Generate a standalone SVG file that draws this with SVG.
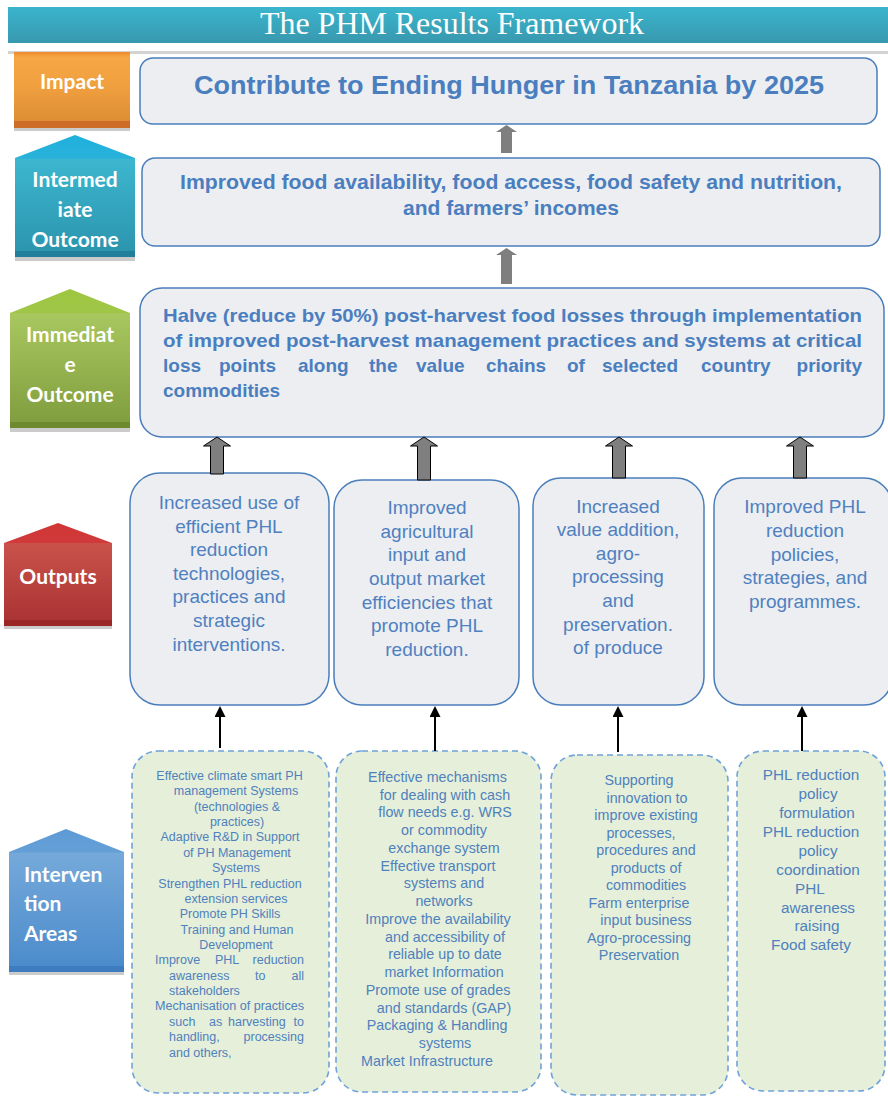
<svg xmlns="http://www.w3.org/2000/svg" width="888" height="1096" viewBox="0 0 888 1096">
<defs>
<style>
.lbl{font-family:Lato,"Open Sans","Liberation Sans",sans-serif;font-weight:bold;font-size:21px;fill:#ffffff}
.hd{font-family:"Liberation Sans",Arial,sans-serif;font-weight:bold;fill:#4a7ebf}
.out{font-family:"Liberation Sans",Arial,sans-serif;font-size:19px;fill:#4f81c0;text-anchor:middle}
.iv{font-family:"Liberation Sans",Arial,sans-serif;fill:#4f81bd}
.box{fill:#eceef1;stroke:#4a7ebb;stroke-width:1.5}
.ibox{fill:#e5efda;stroke:#6fa3d9;stroke-width:1.6;stroke-dasharray:6 4}
.garrow{fill:#7f7f7f}
.garrow2{fill:#7f7f7f;stroke:#000;stroke-width:1}
.blk{stroke:#000;stroke-width:2;fill:none;marker-end:url(#ah)}
.shadow{fill:#cbcbcb}
</style>
<marker id="ah" viewBox="0 0 12 12" markerWidth="12" markerHeight="11" refX="1" refY="6" orient="auto" markerUnits="userSpaceOnUse">
<path d="M0,0 L12,6 L0,12 z" fill="#000"/>
</marker>
<linearGradient id="gTitle" x1="0" y1="0" x2="0" y2="1"><stop offset="0" stop-color="#3ab5cd"/><stop offset="1" stop-color="#3898ae"/></linearGradient>
<linearGradient id="gOrange" x1="0" y1="0" x2="0" y2="1"><stop offset="0" stop-color="#ee8a2c"/><stop offset="0.07" stop-color="#f7a646"/><stop offset="0.45" stop-color="#f0a03f"/><stop offset="1" stop-color="#d98a33"/></linearGradient>
<linearGradient id="gTeal" x1="0" y1="0" x2="0" y2="1"><stop offset="0" stop-color="#1fb0dd"/><stop offset="0.19" stop-color="#28b2d9"/><stop offset="0.2" stop-color="#3db6cf"/><stop offset="1" stop-color="#2b93ac"/></linearGradient>
<linearGradient id="gGreen" x1="0" y1="0" x2="0" y2="1"><stop offset="0" stop-color="#9dc640"/><stop offset="0.17" stop-color="#a0c648"/><stop offset="0.18" stop-color="#a9c75f"/><stop offset="1" stop-color="#7e9c3d"/></linearGradient>
<linearGradient id="gRed" x1="0" y1="0" x2="0" y2="1"><stop offset="0" stop-color="#d13535"/><stop offset="0.19" stop-color="#d03a3a"/><stop offset="0.2" stop-color="#c9524b"/><stop offset="1" stop-color="#a83232"/></linearGradient>
<linearGradient id="gBlue" x1="0" y1="0" x2="0" y2="1"><stop offset="0" stop-color="#5d9bd6"/><stop offset="0.16" stop-color="#659fd6"/><stop offset="0.17" stop-color="#75a9da"/><stop offset="1" stop-color="#4a8acb"/></linearGradient>
</defs>

<rect x="0" y="0" width="888" height="1096" fill="#ffffff"/>

<g id="title">
<rect x="8" y="7" width="880" height="36" fill="url(#gTitle)"/>
<rect x="8" y="51" width="880" height="3" fill="#d3d3d3"/>
<text x="452" y="34" text-anchor="middle" font-family="'Liberation Serif','Times New Roman',serif" font-size="31" fill="#ffffff" textLength="384" lengthAdjust="spacingAndGlyphs">The PHM Results Framework</text>
</g>

<g id="label-impact">
<rect x="14" y="52" width="116" height="76" fill="url(#gOrange)"/>
<rect x="14" y="121" width="116" height="7" fill="#cc6c26"/>
<rect x="14" y="128" width="116" height="3" class="shadow"/>
<text class="lbl" x="72" y="89" text-anchor="middle">Impact</text>
</g>

<g id="label-intermediate">
<path d="M15,158 L75,135 L135,158 L135,257 L15,257 Z" fill="url(#gTeal)"/>
<rect x="15" y="251" width="120" height="6" fill="#217f99"/>
<rect x="15" y="257" width="120" height="4" class="shadow"/>
<text class="lbl" text-anchor="middle"><tspan x="75" y="187">Intermed</tspan><tspan x="75" y="217">iate</tspan><tspan x="75" y="247">Outcome</tspan></text>
</g>

<g id="label-immediate">
<path d="M10,313 L70,289 L130,313 L130,428 L10,428 Z" fill="url(#gGreen)"/>
<rect x="10" y="422" width="120" height="6" fill="#6e8a30"/>
<rect x="10" y="428" width="120" height="4" class="shadow"/>
<text class="lbl" text-anchor="middle"><tspan x="70" y="342">Immediat</tspan><tspan x="70" y="372">e</tspan><tspan x="70" y="402">Outcome</tspan></text>
</g>

<g id="label-outputs">
<path d="M4,543 L58,523 L112,543 L112,626 L4,626 Z" fill="url(#gRed)"/>
<rect x="4" y="620" width="108" height="6" fill="#9a2626"/>
<rect x="4" y="626" width="108" height="3" class="shadow"/>
<text class="lbl" x="58" y="584" text-anchor="middle">Outputs</text>
</g>

<g id="label-intervention">
<path d="M9,852 L66,829 L124,852 L124,972 L9,972 Z" fill="url(#gBlue)"/>
<rect x="9" y="966" width="115" height="6" fill="#3d7dbf"/>
<rect x="9" y="972" width="115" height="3" class="shadow"/>
<text class="lbl"><tspan x="24" y="882">Interven</tspan><tspan x="24" y="911">tion</tspan><tspan x="24" y="941">Areas</tspan></text>
</g>

<g id="impact">
<rect class="box" x="140" y="58" width="737" height="66" rx="13"/>
<text class="hd" x="509" y="94" text-anchor="middle" font-size="25" textLength="630" lengthAdjust="spacingAndGlyphs">Contribute to Ending Hunger in Tanzania by 2025</text>
</g>

<g id="intermediate-outcome">
<rect class="box" x="142" y="158" width="738" height="88" rx="13"/>
<text class="hd" font-size="21" text-anchor="middle"><tspan x="511" y="189" textLength="662" lengthAdjust="spacingAndGlyphs">Improved food availability, food access, food safety and nutrition,</tspan><tspan x="511" y="215">and farmers’ incomes</tspan></text>
</g>

<g id="immediate-outcome">
<rect class="box" x="140" y="288" width="744" height="149" rx="22"/>
<g class="hd" font-size="19">
<text x="163" y="322" textLength="699" lengthAdjust="spacingAndGlyphs">Halve (reduce by 50%) post-harvest food losses through implementation</text>
<text x="163" y="347" textLength="699" lengthAdjust="spacingAndGlyphs">of improved post-harvest management practices and systems at critical</text>
<text y="372"><tspan x="163">loss</tspan><tspan x="219">points</tspan><tspan x="298">along</tspan><tspan x="369">the</tspan><tspan x="416">value</tspan><tspan x="486">chains</tspan><tspan x="567">of</tspan><tspan x="602">selected</tspan><tspan x="701">country</tspan><tspan x="862" text-anchor="end">priority</tspan></text>
<text x="163" y="397">commodities</text>
</g>
</g>

<g id="output-1">
<rect class="box" x="130" y="473" width="199" height="232" rx="30"/>
<text class="out"><tspan x="229" y="509">Increased use of</tspan><tspan x="229" y="532.6">efficient PHL</tspan><tspan x="229" y="556.2">reduction</tspan><tspan x="229" y="579.8">technologies,</tspan><tspan x="229" y="603.4">practices and</tspan><tspan x="229" y="627">strategic</tspan><tspan x="229" y="650.6">interventions.</tspan></text>
</g>

<g id="output-2">
<rect class="box" x="334" y="480" width="185" height="225" rx="28"/>
<text class="out"><tspan x="427" y="514">Improved</tspan><tspan x="427" y="537.7">agricultural</tspan><tspan x="427" y="561.4">input and</tspan><tspan x="427" y="585">output market</tspan><tspan x="427" y="608.7">efficiencies that</tspan><tspan x="427" y="632.4">promote PHL</tspan><tspan x="427" y="656">reduction.</tspan></text>
</g>

<g id="output-3">
<rect class="box" x="533" y="478" width="171" height="227" rx="28"/>
<text class="out"><tspan x="618" y="512.7">Increased</tspan><tspan x="618" y="536.3">value addition,</tspan><tspan x="618" y="559.8">agro-</tspan><tspan x="618" y="583.4">processing</tspan><tspan x="618" y="607">and</tspan><tspan x="618" y="630.5">preservation.</tspan><tspan x="618" y="654">of produce</tspan></text>
</g>

<g id="output-4">
<rect class="box" x="714" y="478" width="178" height="227" rx="28"/>
<text class="out"><tspan x="805" y="512.7">Improved PHL</tspan><tspan x="805" y="536.6">reduction</tspan><tspan x="805" y="560.5">policies,</tspan><tspan x="805" y="584.4">strategies, and</tspan><tspan x="805" y="608.3">programmes.</tspan></text>
</g>

<g id="intervention-1">
<rect class="ibox" x="132" y="751" width="197" height="342" rx="26"/>
<g class="iv" font-size="12.5">
<text text-anchor="middle"><tspan x="229.5" y="780">Effective climate smart PH</tspan><tspan x="236" y="795.3">management Systems</tspan><tspan x="237" y="810.7">(technologies &amp;</tspan><tspan x="237" y="826">practices)</tspan><tspan x="230" y="841.4">Adaptive R&amp;D in Support</tspan><tspan x="237" y="856.8">of PH Management</tspan><tspan x="236" y="872.1">Systems</tspan><tspan x="230" y="887.5">Strengthen PHL reduction</tspan><tspan x="236" y="902.8">extension services</tspan><tspan x="230" y="918.2">Promote PH Skills</tspan><tspan x="237" y="933.6">Training and Human</tspan><tspan x="236" y="948.9">Development</tspan></text>
<text y="964.3"><tspan x="155">Improve</tspan><tspan x="215">PHL</tspan><tspan x="304" text-anchor="end">reduction</tspan></text>
<text y="979.6"><tspan x="169">awareness</tspan><tspan x="255">to</tspan><tspan x="304" text-anchor="end">all</tspan></text>
<text x="169" y="995">stakeholders</text>
<text x="155" y="1010.4" textLength="149" lengthAdjust="spacingAndGlyphs">Mechanisation of practices</text>
<text y="1025.7"><tspan x="169">such</tspan><tspan x="209">as</tspan><tspan x="228">harvesting</tspan><tspan x="304" text-anchor="end">to</tspan></text>
<text y="1041.1"><tspan x="169">handling,</tspan><tspan x="304" text-anchor="end">processing</tspan></text>
<text x="169" y="1056.5">and others,</text>
</g>
</g>

<g id="intervention-2">
<rect class="ibox" x="336" y="751" width="205" height="341" rx="26"/>
<text class="iv" font-size="14.3" text-anchor="middle"><tspan x="437.5" y="781.7">Effective mechanisms</tspan><tspan x="445" y="799.5">for dealing with cash</tspan><tspan x="445" y="817.2">flow needs e.g. WRS</tspan><tspan x="444" y="835">or commodity</tspan><tspan x="444" y="852.7">exchange system</tspan><tspan x="438" y="870.5">Effective transport</tspan><tspan x="444" y="888.2">systems and</tspan><tspan x="444" y="906">networks</tspan><tspan x="438" y="923.7">Improve the availability</tspan><tspan x="445" y="941.5">and accessibility of</tspan><tspan x="445" y="959.2">reliable up to date</tspan><tspan x="444" y="977">market Information</tspan><tspan x="438" y="994.7">Promote use of grades</tspan><tspan x="444" y="1012.5">and standards (GAP)</tspan><tspan x="437" y="1030.2">Packaging &amp; Handling</tspan><tspan x="445" y="1048">systems</tspan><tspan x="427" y="1065.7">Market Infrastructure</tspan></text>
</g>

<g id="intervention-3">
<rect class="ibox" x="551" y="755" width="177" height="340" rx="26"/>
<text class="iv" font-size="14.3" text-anchor="middle"><tspan x="639" y="785">Supporting</tspan><tspan x="647" y="802.5">innovation to</tspan><tspan x="646" y="820">improve existing</tspan><tspan x="641" y="837.5">processes,</tspan><tspan x="646" y="855">procedures and</tspan><tspan x="646" y="872.5">products of</tspan><tspan x="646" y="890">commodities</tspan><tspan x="639" y="907.5">Farm enterprise</tspan><tspan x="646" y="925">input business</tspan><tspan x="639" y="942.5">Agro-processing</tspan><tspan x="639" y="960">Preservation</tspan></text>
</g>

<g id="intervention-4">
<rect class="ibox" x="737" y="751" width="148" height="340" rx="26"/>
<text class="iv" font-size="15.3" text-anchor="middle"><tspan x="811" y="780">PHL reduction</tspan><tspan x="818" y="799">policy</tspan><tspan x="817" y="818">formulation</tspan><tspan x="811" y="837">PHL reduction</tspan><tspan x="818" y="856">policy</tspan><tspan x="818" y="874.5">coordination</tspan><tspan x="810" y="893.5">PHL</tspan><tspan x="818" y="912.5">awareness</tspan><tspan x="817" y="931">raising</tspan><tspan x="811" y="950">Food safety</tspan></text>
</g>

<g id="connectors">
<path class="garrow" d="M496,132 L506.5,125 L517,132 L512,132 L512,153 L501,153 L501,132 Z"/>
<path class="garrow" d="M496,255 L506.5,248 L517,255 L512,255 L512,284 L501,284 L501,255 Z"/>
<path class="garrow2" d="M203.5,446 L217,437 L230.5,446 L223.5,446 L223.5,474 L210.5,474 L210.5,446 Z"/>
<path class="garrow2" d="M410.5,446 L424,437 L437.5,446 L430.5,446 L430.5,480 L417.5,480 L417.5,446 Z"/>
<path class="garrow2" d="M605.5,446 L619,437 L632.5,446 L625.5,446 L625.5,478 L612.5,478 L612.5,446 Z"/>
<path class="garrow2" d="M786.5,446 L800,437 L813.5,446 L806.5,446 L806.5,478 L793.5,478 L793.5,446 Z"/>
<line class="blk" x1="220" y1="748" x2="220" y2="716"/>
<line class="blk" x1="435" y1="751" x2="435" y2="716"/>
<line class="blk" x1="618" y1="752" x2="618" y2="716"/>
<line class="blk" x1="802" y1="751" x2="802" y2="716"/>
</g>
</svg>
